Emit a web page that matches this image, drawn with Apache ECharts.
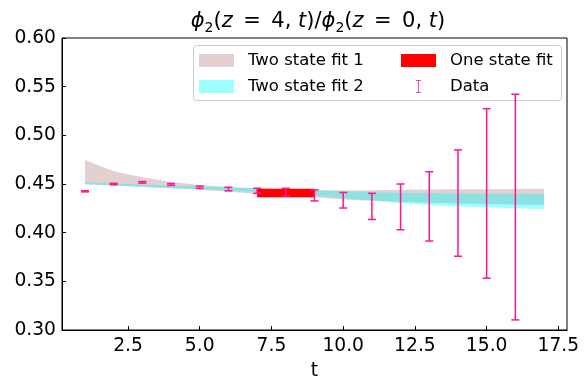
<!DOCTYPE html>
<html>
<head>
<meta charset="utf-8">
<script src="https://cdn.jsdelivr.net/npm/echarts@6/dist/echarts.min.js"></script>
<style>html,body{margin:0;padding:0;background:#fff;}#c{width:586px;height:379px;}</style>
</head>
<body>
<div id="c"></div>
<script>
// ---- data ----
const tVals = [1, 2, 3, 4, 5, 6, 7, 8, 9, 10, 11, 12, 13, 14, 15, 16];
const ratio = [0.4425, 0.4500, 0.4517, 0.4495, 0.4467, 0.4448, 0.4430, 0.4416, 0.4383, 0.4333, 0.4270, 0.4265, 0.4270, 0.4304, 0.4403, 0.4263];
const ratioErr = [0.0006, 0.0007, 0.0008, 0.0009, 0.0012, 0.0018, 0.0026, 0.0040, 0.0057, 0.0080, 0.0134, 0.0235, 0.0356, 0.0546, 0.0871, 0.1159];

const fitT = [1, 2, 3, 4, 5, 6, 7, 8, 9, 10, 11, 12, 13, 14, 15, 16, 17];
const fit1Lo = [0.4497, 0.4485, 0.4470, 0.4455, 0.4440, 0.4420, 0.4400, 0.4385, 0.4365, 0.4340, 0.4328, 0.4318, 0.4308, 0.4300, 0.4294, 0.4289, 0.4285];
const fit1Hi = [0.4747, 0.4630, 0.4570, 0.4520, 0.4490, 0.4470, 0.4455, 0.4445, 0.4438, 0.4432, 0.4436, 0.4440, 0.4443, 0.4445, 0.4447, 0.4449, 0.4450];
const fit2Lo = [0.4497, 0.4485, 0.4473, 0.4460, 0.4448, 0.4435, 0.4415, 0.4398, 0.4378, 0.4355, 0.4330, 0.4302, 0.4285, 0.4270, 0.4260, 0.4250, 0.4240];
const fit2Hi = [0.4517, 0.4505, 0.4495, 0.4485, 0.4475, 0.4465, 0.4456, 0.4447, 0.4437, 0.4425, 0.4415, 0.4408, 0.4404, 0.4402, 0.4400, 0.4399, 0.4398];

const oneStateT = [7, 9];
const oneStateLo = 0.4364;
const oneStateHi = 0.4451;

const xTicks = [2.5, 5.0, 7.5, 10.0, 12.5, 15.0, 17.5];
const yTicks = [0.30, 0.35, 0.40, 0.45, 0.50, 0.55, 0.60];

// ---- chart ----
const FONT = 'DejaVu Sans';
const chart = echarts.init(document.getElementById('c'), null, {renderer: 'canvas'});

function bandSeries(name, lo, hi, color, z) {
  return {
    name: name,
    type: 'custom',
    z: z,
    itemStyle: {color: color},
    data: fitT.map((t, i) => [t, lo[i], hi[i]]),
    encode: {x: 0, y: [1, 2]},
    renderItem: function (params, api) {
      if (params.dataIndex !== 0) return null;
      const pts = [];
      for (let i = 0; i < fitT.length; i++) pts.push(api.coord([fitT[i], hi[i]]));
      for (let i = fitT.length - 1; i >= 0; i--) pts.push(api.coord([fitT[i], lo[i]]));
      return {type: 'polygon', shape: {points: pts}, style: {fill: color}};
    }
  };
}

const SP = '\u2002';
const option = {
  animation: false,
  backgroundColor: '#fff',
  title: {
    text: '{i|ϕ}{s|2}({i|z}' + SP + '=' + SP + '4, {i|t})/{i|ϕ}{s|2}({i|z}' + SP + '=' + SP + '0, {i|t})',
    left: 313,
    textAlign: 'center',
    top: 4,
    textStyle: {
      fontFamily: FONT, fontSize: 21, fontWeight: 'normal', color: '#000', lineHeight: 26,
      rich: {
        i: {fontFamily: FONT, fontSize: 21, fontStyle: 'italic', color: '#000', lineHeight: 26},
        s: {fontFamily: FONT, fontSize: 14, color: '#000', lineHeight: 14, verticalAlign: 'bottom'}
      }
    }
  },
  grid: {left: 62, right: 19, top: 38, bottom: 49, containLabel: false, outerBoundsMode: 'none',
    show: true, borderColor: '#000', borderWidth: 1, backgroundColor: 'transparent'},
  xAxis: {
    type: 'value', min: 0.2, max: 17.8,
    name: 't', nameLocation: 'middle', nameGap: 32,
    nameTextStyle: {fontFamily: FONT, fontSize: 18.7, color: '#000'},
    axisLine: {show: true, lineStyle: {color: '#000', width: 1}},
    axisTick: {show: true, inside: true, length: 4, lineStyle: {color: '#000'}, customValues: xTicks},
    axisLabel: {show: true, margin: 7, fontFamily: FONT, fontSize: 18.7, color: '#000', customValues: xTicks,
      formatter: v => v.toFixed(1)},
    splitLine: {show: false}
  },
  yAxis: {
    type: 'value', min: 0.30, max: 0.60,
    axisLine: {show: true, lineStyle: {color: '#000', width: 1}},
    axisTick: {show: true, inside: true, length: 4, lineStyle: {color: '#000'}, customValues: yTicks},
    axisLabel: {show: true, margin: 6, fontFamily: FONT, fontSize: 18.7, color: '#000', customValues: yTicks,
      formatter: v => v.toFixed(2)},
    splitLine: {show: false}
  },
  graphic: [{
    type: 'rect', z: 3, left: 193, top: 45,
    shape: {width: 368, height: 55, r: 3},
    style: {fill: 'rgba(255,255,255,0.8)', stroke: '#cccccc', lineWidth: 1}
  }],
  legend: [{
    orient: 'vertical', left: 199, top: 52, padding: 0, itemGap: 9,
    itemWidth: 35, itemHeight: 13, z: 5,
    textStyle: {fontFamily: FONT, fontSize: 16.5, color: '#000', lineHeight: 16, padding: [0, 0, 0, 9]},
    data: [{name: 'Two state fit 1', icon: 'rect'}, {name: 'Two state fit 2', icon: 'rect'}]
  }, {
    orient: 'vertical', left: 401, top: 52, padding: 0, itemGap: 9,
    itemWidth: 35, itemHeight: 13, z: 5,
    textStyle: {fontFamily: FONT, fontSize: 16.5, color: '#000', lineHeight: 16, padding: [0, 0, 0, 9]},
    data: [{name: 'One state fit', icon: 'rect'},
           {name: 'Data', icon: 'path://M0,0h8v1.2h-3.4v17.6h3.4v1.2h-8v-1.2h3.4v-17.6h-3.4z'}]
  }],
  series: [
    bandSeries('Two state fit 1', fit1Lo, fit1Hi, 'rgba(188,143,143,0.42)', 1),
    bandSeries('Two state fit 2', fit2Lo, fit2Hi, 'rgba(0,255,255,0.38)', 2),
    {
      name: 'One state fit',
      type: 'custom', z: 3,
      itemStyle: {color: '#ff0000'},
      data: [[oneStateT[0], oneStateT[1], oneStateLo, oneStateHi]],
      encode: {x: [0, 1], y: [2, 3]},
      renderItem: function (params, api) {
        const p1 = api.coord([api.value(0), api.value(3)]);
        const p2 = api.coord([api.value(1), api.value(2)]);
        return {type: 'rect', shape: {x: p1[0], y: p1[1], width: p2[0] - p1[0], height: p2[1] - p1[1]},
          style: {fill: '#ff0000'}};
      }
    },
    {
      name: 'Data',
      type: 'custom', z: 4,
      itemStyle: {color: '#ff1493'},
      data: tVals.map((t, i) => [t, ratio[i] - ratioErr[i], ratio[i] + ratioErr[i]]),
      encode: {x: 0, y: [1, 2]},
      renderItem: function (params, api) {
        const lo = api.coord([api.value(0), api.value(1)]);
        const hi = api.coord([api.value(0), api.value(2)]);
        const cap = 4;
        const st = {stroke: '#ff1493', lineWidth: 1.5, fill: null};
        return {type: 'group', children: [
          {type: 'line', shape: {x1: lo[0], y1: lo[1], x2: hi[0], y2: hi[1]}, style: st},
          {type: 'line', shape: {x1: lo[0] - cap, y1: lo[1], x2: lo[0] + cap, y2: lo[1]}, style: st},
          {type: 'line', shape: {x1: hi[0] - cap, y1: hi[1], x2: hi[0] + cap, y2: hi[1]}, style: st}
        ]};
      }
    }
  ]
};
chart.setOption(option);
</script>
</body>
</html>
